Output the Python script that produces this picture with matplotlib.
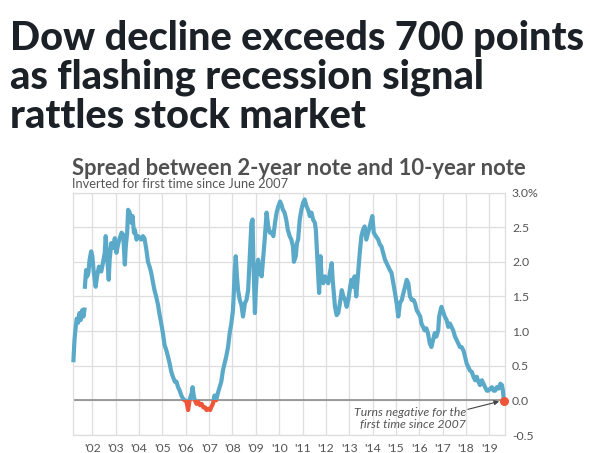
import numpy as np
import matplotlib.pyplot as plt
from matplotlib.patches import Rectangle

# spread between 2-year and 10-year note
# (decimal year, percentage points); nan marks the gap after Sept 2001
years = [
    2001.19, 2001.23, 2001.27, 2001.33, 2001.39, 2001.45, 2001.50, 2001.56, 2001.62, 2001.66, 2001.67,
    2001.68, 2001.73, 2001.78, 2001.83, 2001.88, 2001.95, 2002.00, 2002.05, 2002.14, 2002.20,
    2002.28, 2002.38, 2002.45, 2002.53, 2002.57, 2002.63, 2002.70, 2002.74, 2002.81, 2002.89,
    2002.96, 2003.03, 2003.10, 2003.17, 2003.25, 2003.32, 2003.39, 2003.43, 2003.49, 2003.53,
    2003.60, 2003.68, 2003.72, 2003.78, 2003.82, 2003.89, 2003.96,
    2004.09, 2004.16, 2004.23, 2004.30, 2004.33, 2004.38, 2004.45, 2004.52, 2004.59, 2004.66,
    2004.73, 2004.81, 2004.88, 2004.95, 2005.02, 2005.09, 2005.17, 2005.24, 2005.31, 2005.38,
    2005.45, 2005.53, 2005.60, 2005.67, 2005.74, 2005.81, 2005.89, 2005.96, 2006.03, 2006.10,
    2006.17, 2006.25, 2006.29, 2006.35, 2006.39, 2006.46, 2006.53, 2006.61, 2006.68, 2006.75,
    2006.82, 2006.89, 2006.96, 2007.04,
    2007.09, 2007.16, 2007.23, 2007.30, 2007.37, 2007.45, 2007.52, 2007.59, 2007.66, 2007.73,
    2007.81, 2007.88, 2007.95, 2008.02, 2008.05, 2008.09, 2008.14, 2008.19, 2008.24, 2008.31,
    2008.38, 2008.45, 2008.53, 2008.60, 2008.67, 2008.74, 2008.81, 2008.86, 2008.89, 2008.96,
    2009.00, 2009.06, 2009.10, 2009.17, 2009.25, 2009.32, 2009.39, 2009.46, 2009.53, 2009.60,
    2009.68, 2009.75, 2009.82, 2009.89, 2009.96, 2010.04,
    2010.09, 2010.16, 2010.23, 2010.30, 2010.37, 2010.45, 2010.52, 2010.59, 2010.63, 2010.71,
    2010.76, 2010.81, 2010.88, 2010.95, 2011.02, 2011.09, 2011.17, 2011.24, 2011.31, 2011.38,
    2011.45, 2011.53, 2011.57, 2011.63, 2011.67, 2011.71, 2011.77, 2011.81, 2011.89, 2011.96,
    2012.03, 2012.10, 2012.17, 2012.25, 2012.29, 2012.35, 2012.39, 2012.46, 2012.53, 2012.60,
    2012.68, 2012.75, 2012.82, 2012.89, 2012.96, 2013.04,
    2013.09, 2013.16, 2013.23, 2013.30, 2013.37, 2013.45, 2013.52, 2013.59, 2013.66, 2013.73,
    2013.81, 2013.88, 2013.95, 2013.99, 2014.05, 2014.14, 2014.24, 2014.31, 2014.38, 2014.45,
    2014.53, 2014.60, 2014.67, 2014.74, 2014.81, 2014.89, 2014.96, 2015.03, 2015.10, 2015.17,
    2015.25, 2015.32, 2015.39, 2015.46, 2015.53, 2015.60, 2015.68, 2015.75, 2015.82, 2015.89,
    2015.96, 2016.04,
    2016.09, 2016.16, 2016.23, 2016.30, 2016.37, 2016.45, 2016.52, 2016.59, 2016.66, 2016.73,
    2016.81, 2016.85, 2016.91, 2016.95, 2017.02, 2017.09, 2017.17, 2017.24, 2017.31, 2017.38,
    2017.45, 2017.53, 2017.60, 2017.67, 2017.74, 2017.81, 2017.89, 2017.96, 2018.03, 2018.10,
    2018.17, 2018.25, 2018.32, 2018.39, 2018.46, 2018.53, 2018.60, 2018.68, 2018.75, 2018.82,
    2018.89, 2018.96, 2019.04, 2019.11, 2019.18, 2019.25, 2019.32, 2019.40, 2019.47, 2019.54,
    2019.58, 2019.62,
]
spread = [
    0.58, 0.85, 1.01, 1.18, 1.12, 1.26, 1.16, 1.30, 1.21, 1.31, np.nan,
    1.64, 1.88, 1.79, 1.84, 2.03, 2.15, 2.08, 1.88, 1.64, 1.79,
    1.93, 1.86, 1.98, 2.13, 2.37, 2.08, 1.74, 2.03, 2.27, 2.20,
    2.34, 2.13, 2.25, 2.34, 2.42, 2.39, 1.96, 2.22, 2.42, 2.75,
    2.71, 2.56, 2.66, 2.42, 2.46, 2.32, 2.37,
    2.32, 2.37, 2.34, 2.20, 2.13, 2.00, 1.93, 1.84, 1.71, 1.59,
    1.50, 1.38, 1.23, 1.11, 0.97, 0.80, 0.72, 0.63, 0.53, 0.41,
    0.34, 0.27, 0.27, 0.19, 0.14, 0.07, 0.02, 0.00, -0.02, -0.14,
    0.02, 0.10, 0.19, 0.05, 0.00, -0.05, -0.02, -0.07, -0.05, -0.10,
    -0.10, -0.14, -0.12, -0.14,
    -0.10, -0.05, 0.07, 0.00, 0.10, 0.19, 0.27, 0.43, 0.53, 0.63,
    0.77, 0.97, 1.11, 1.30, 1.50, 1.84, 2.08, 1.79, 1.59, 1.45,
    1.38, 1.21, 1.40, 1.45, 1.59, 2.08, 2.56, 2.61, 2.08, 1.26,
    1.59, 1.93, 2.03, 1.84, 1.79, 2.08, 2.37, 2.71, 2.51, 2.42,
    2.42, 2.37, 2.56, 2.71, 2.80, 2.87,
    2.83, 2.75, 2.71, 2.61, 2.46, 2.37, 2.32, 2.22, 2.00, 2.08,
    2.27, 2.32, 2.61, 2.75, 2.85, 2.90, 2.80, 2.75, 2.66, 2.71,
    2.61, 2.56, 2.46, 2.08, 1.84, 1.55, 2.08, 1.79, 1.69, 1.79,
    1.74, 1.69, 1.84, 1.98, 1.74, 1.50, 1.35, 1.23, 1.26, 1.40,
    1.59, 1.50, 1.45, 1.35, 1.45, 1.64,
    1.74, 1.64, 1.79, 1.50, 1.79, 2.13, 2.37, 2.46, 2.51, 2.32,
    2.42, 2.51, 2.61, 2.66, 2.42, 2.37, 2.32, 2.25, 2.22, 2.13,
    2.03, 1.98, 1.93, 1.88, 1.84, 1.69, 1.55, 1.40, 1.21, 1.40,
    1.45, 1.55, 1.64, 1.74, 1.69, 1.50, 1.45, 1.45, 1.40, 1.30,
    1.26, 1.21,
    1.11, 1.06, 1.01, 1.04, 0.97, 0.82, 0.77, 0.87, 0.97, 0.92,
    1.01, 1.21, 1.30, 1.35, 1.28, 1.21, 1.16, 1.06, 1.11, 1.06,
    1.01, 0.92, 0.87, 0.82, 0.77, 0.77, 0.72, 0.63, 0.53, 0.48,
    0.43, 0.41, 0.34, 0.29, 0.34, 0.27, 0.22, 0.29, 0.24, 0.19,
    0.14, 0.14, 0.17, 0.19, 0.14, 0.14, 0.19, 0.17, 0.24, 0.22,
    0.14, 0.00,
]

inversion_year = 2019.61
inversion_value = -0.01

tick_years = list(range(2002, 2020))
tick_labels = ["'%02d" % (y % 100) for y in tick_years]
y_ticks = [-0.5, 0.0, 0.5, 1.0, 1.5, 2.0, 2.5, 3.0]
y_labels = ['-0.5', '0.0', '0.5', '1.0', '1.5', '2.0', '2.5', '3.0%']

BLUE = '#5aa9c8'
RED = '#ef5538'
GRID = '#dedede'
TXT = '#555555'

fig = plt.figure(figsize=(5.9, 4.53), dpi=100)
fig.patch.set_facecolor('white')

# headline
head = ['Dow decline exceeds 700 points', 'as flashing recession signal', 'rattles stock market']
for i, line in enumerate(head):
    fig.text(10 / 590, 1 - (50 + 39 * i) / 453, line, family='Lato', weight='black',
             fontsize=28.5, color='#1b2126', va='baseline', ha='left')

fig.text(72 / 590, 1 - 175 / 453, 'Spread between 2-year note and 10-year note',
         family='Lato', weight='bold', fontsize=15.8, color='#505050', va='baseline')
fig.text(72 / 590, 1 - 188 / 453, 'Inverted for first time since June 2007',
         family='Lato', fontsize=9.3, color=TXT, va='baseline')

ax = fig.add_axes([73 / 590, 18 / 453, 432 / 590, 242.5 / 453])
ax.set_xlim(2001.17, 2019.67)
ax.set_ylim(-0.5, 3.0)

ax.set_xticks(tick_years)
ax.set_xticklabels(tick_labels)
ax.set_yticks(y_ticks)
ax.set_yticklabels(y_labels)
ax.yaxis.tick_right()
ax.tick_params(length=0, labelsize=8.8, labelcolor=TXT)
ax.tick_params(axis='x', pad=6)
ax.tick_params(axis='y', pad=5)
for lab in ax.get_xticklabels() + ax.get_yticklabels():
    lab.set_family('Lato')

ax.grid(True, color=GRID, lw=0.9)
ax.set_axisbelow(True)
for sp in ax.spines.values():
    sp.set_color(GRID)
    sp.set_linewidth(0.9)

ax.axhline(0, color='#8c8c8c', lw=1.2, zorder=1)

# positive part blue, negative part red (clip at the zero line)
above = Rectangle((2000, 0), 30, 10, transform=ax.transData)
below = Rectangle((2000, -10), 30, 10, transform=ax.transData)
l1, = ax.plot(years, spread, color=BLUE, lw=3.0, solid_joinstyle='round', zorder=3)
l1.set_clip_path(above)
l2, = ax.plot(years, spread, color=RED, lw=3.0, solid_joinstyle='round', zorder=3)
l2.set_clip_path(below)

ax.scatter([inversion_year], [inversion_value], s=30, color=RED, zorder=5, clip_on=False)

ax.text(2018.0, -0.175, 'Turns negative for the', ha='right', va='center',
        family='Lato', style='italic', fontsize=8.8, color=TXT)
ax.text(2018.0, -0.355, 'first time since 2007', ha='right', va='center',
        family='Lato', style='italic', fontsize=8.8, color=TXT)
ax.annotate('', xy=(2019.42, -0.015), xytext=(2018.08, -0.13),
            arrowprops=dict(arrowstyle='-|>', color='#444444', lw=0.8,
                            mutation_scale=7, shrinkA=0, shrinkB=0))

fig.savefig('out.png', dpi=100)
